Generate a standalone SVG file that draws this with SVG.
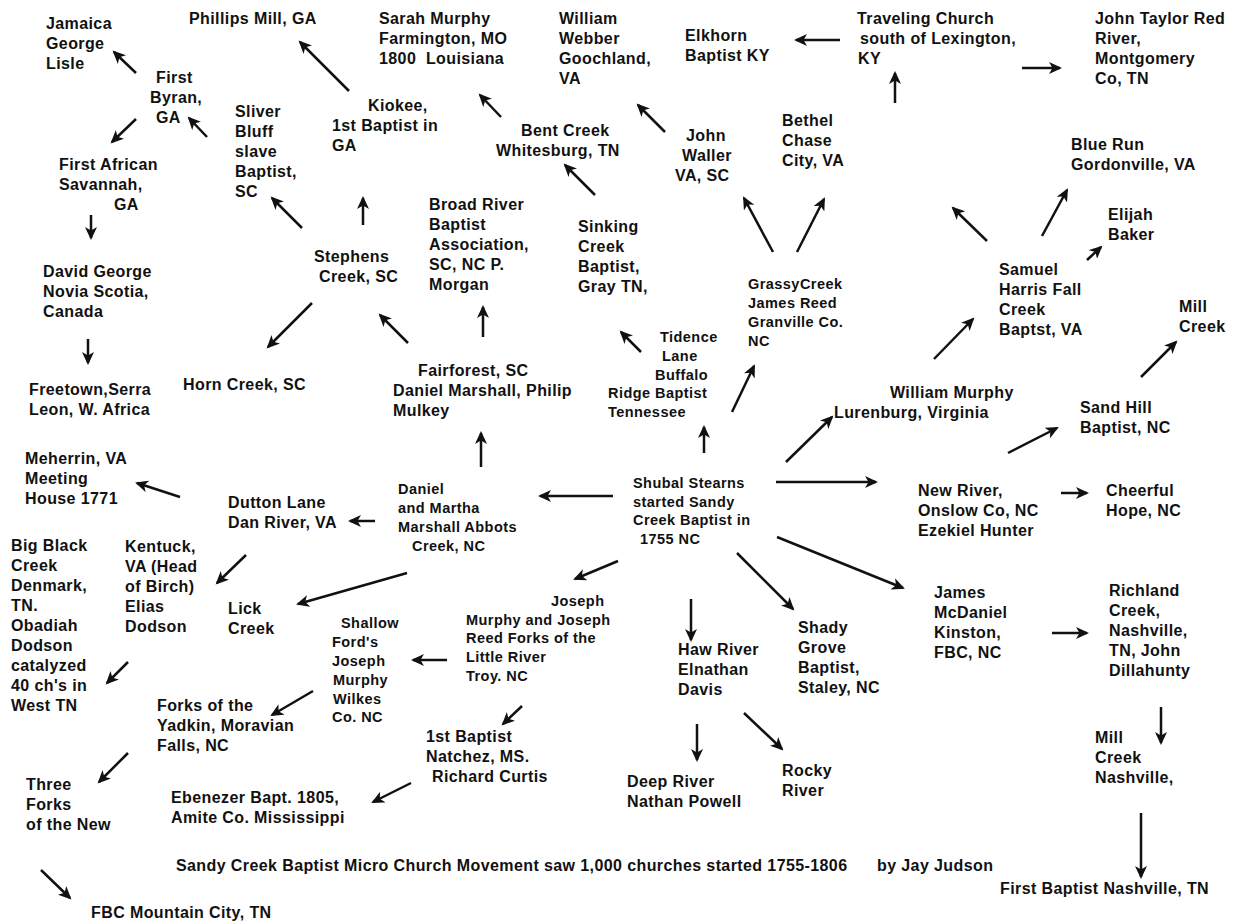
<svg xmlns="http://www.w3.org/2000/svg" width="1234" height="924" viewBox="0 0 1234 924">
<style>
.t{font-family:"Liberation Sans",Arial,sans-serif;font-weight:bold;font-size:16px;letter-spacing:0.4px;fill:#111}
.s{font-size:14.5px;letter-spacing:0.45px}
.c line{stroke:#111;stroke-width:2.5;marker-end:url(#ah)}
</style>
<defs>
<marker id="ah" markerUnits="userSpaceOnUse" markerWidth="14" markerHeight="12" refX="11" refY="6" orient="auto">
<path d="M0,0 L13,6 L0,12 L3.5,6 z" fill="#111"/>
</marker>
</defs>
<rect width="1234" height="924" fill="#fff"/>
<g id="connectors" class="c">
<line x1="136" y1="73" x2="114" y2="52"/>
<line x1="136" y1="119" x2="112" y2="142"/>
<line x1="207" y1="137" x2="189" y2="118"/>
<line x1="91" y1="215" x2="91" y2="238"/>
<line x1="302" y1="228" x2="272" y2="198"/>
<line x1="349" y1="91" x2="300" y2="42"/>
<line x1="501" y1="117" x2="480" y2="95"/>
<line x1="595" y1="195" x2="565" y2="165"/>
<line x1="363" y1="225" x2="363" y2="198"/>
<line x1="840" y1="40" x2="796" y2="40"/>
<line x1="895" y1="103" x2="895" y2="73"/>
<line x1="665" y1="132" x2="638" y2="105"/>
<line x1="773" y1="252" x2="744" y2="198"/>
<line x1="797" y1="252" x2="824" y2="199"/>
<line x1="1022" y1="68" x2="1060" y2="68"/>
<line x1="987" y1="241" x2="953" y2="208"/>
<line x1="1042" y1="236" x2="1067" y2="190"/>
<line x1="1087" y1="260" x2="1101" y2="247"/>
<line x1="934" y1="359" x2="973" y2="319"/>
<line x1="1141" y1="377" x2="1176" y2="342"/>
<line x1="786" y1="462" x2="832" y2="417"/>
<line x1="1008" y1="453" x2="1057" y2="428"/>
<line x1="1061" y1="493" x2="1087" y2="493"/>
<line x1="776" y1="482" x2="876" y2="482"/>
<line x1="777" y1="537" x2="903" y2="588"/>
<line x1="737" y1="553" x2="793" y2="609"/>
<line x1="1052" y1="633" x2="1087" y2="633"/>
<line x1="1161" y1="707" x2="1161" y2="743"/>
<line x1="1141" y1="813" x2="1141" y2="877"/>
<line x1="246" y1="555" x2="217" y2="583"/>
<line x1="407" y1="573" x2="298" y2="604"/>
<line x1="128" y1="662" x2="107" y2="683"/>
<line x1="313" y1="691" x2="272" y2="715"/>
<line x1="128" y1="753" x2="99" y2="782"/>
<line x1="41" y1="870" x2="70" y2="898"/>
<line x1="411" y1="783" x2="373" y2="802"/>
<line x1="447" y1="660" x2="413" y2="660"/>
<line x1="522" y1="706" x2="503" y2="724"/>
<line x1="618" y1="561" x2="575" y2="579"/>
<line x1="613" y1="496" x2="540" y2="496"/>
<line x1="375" y1="521" x2="350" y2="521"/>
<line x1="180" y1="497" x2="137" y2="483"/>
<line x1="88" y1="339" x2="88" y2="363"/>
<line x1="312" y1="303" x2="268" y2="347"/>
<line x1="408" y1="343" x2="380" y2="315"/>
<line x1="483" y1="337" x2="483" y2="307"/>
<line x1="481" y1="467" x2="481" y2="433"/>
<line x1="641" y1="352" x2="621" y2="332"/>
<line x1="732" y1="412" x2="754" y2="366"/>
<line x1="704" y1="453" x2="704" y2="427"/>
<line x1="691" y1="599" x2="691" y2="640"/>
<line x1="697" y1="724" x2="697" y2="760"/>
<line x1="744" y1="713" x2="782" y2="749"/>
</g>
<g id="jamaica"><text class="t"><tspan x="46" y="29">Jamaica</tspan><tspan x="46" y="49">George</tspan><tspan x="46" y="69">Lisle</tspan></text></g>
<g id="phillips"><text class="t" x="189" y="24">Phillips Mill, GA</text></g>
<g id="first-byran"><text class="t"><tspan x="156" y="83">First</tspan><tspan x="150" y="103">Byran,</tspan><tspan x="156" y="123">GA</tspan></text></g>
<g id="sliver"><text class="t"><tspan x="235" y="117">Sliver</tspan><tspan x="235" y="137">Bluff</tspan><tspan x="235" y="157">slave</tspan><tspan x="235" y="177">Baptist,</tspan><tspan x="235" y="197">SC</tspan></text></g>
<g id="first-african"><text class="t"><tspan x="59" y="170">First African</tspan><tspan x="59" y="190">Savannah,</tspan><tspan x="114" y="210">GA</tspan></text></g>
<g id="david-george"><text class="t"><tspan x="43" y="277">David George</tspan><tspan x="43" y="297">Novia Scotia,</tspan><tspan x="43" y="317">Canada</tspan></text></g>
<g id="freetown"><text class="t"><tspan x="29" y="395">Freetown,Serra</tspan><tspan x="29" y="415">Leon, W. Africa</tspan></text></g>
<g id="sarah"><text class="t" xml:space="preserve"><tspan x="379" y="24">Sarah Murphy</tspan><tspan x="379" y="44">Farmington, MO</tspan><tspan x="379" y="64">1800  Louisiana</tspan></text></g>
<g id="kiokee"><text class="t"><tspan x="368" y="111">Kiokee,</tspan><tspan x="332" y="131">1st Baptist in</tspan><tspan x="332" y="151">GA</tspan></text></g>
<g id="william-webber"><text class="t"><tspan x="559" y="24">William</tspan><tspan x="559" y="44">Webber</tspan><tspan x="559" y="64">Goochland,</tspan><tspan x="559" y="84">VA</tspan></text></g>
<g id="elkhorn"><text class="t"><tspan x="685" y="41">Elkhorn</tspan><tspan x="685" y="61">Baptist KY</tspan></text></g>
<g id="traveling"><text class="t"><tspan x="857" y="24">Traveling Church</tspan><tspan x="860" y="44">south of Lexington,</tspan><tspan x="858" y="64">KY</tspan></text></g>
<g id="john-taylor"><text class="t"><tspan x="1095" y="24">John Taylor Red</tspan><tspan x="1095" y="44">River,</tspan><tspan x="1095" y="64">Montgomery</tspan><tspan x="1095" y="84">Co, TN</tspan></text></g>
<g id="bent-creek"><text class="t"><tspan x="521" y="136">Bent Creek</tspan><tspan x="496" y="156">Whitesburg, TN</tspan></text></g>
<g id="john-waller"><text class="t"><tspan x="686" y="141">John</tspan><tspan x="682" y="161">Waller</tspan><tspan x="675" y="181">VA, SC</tspan></text></g>
<g id="bethel"><text class="t"><tspan x="782" y="126">Bethel</tspan><tspan x="782" y="146">Chase</tspan><tspan x="782" y="166">City, VA</tspan></text></g>
<g id="blue-run"><text class="t"><tspan x="1071" y="150">Blue Run</tspan><tspan x="1071" y="170">Gordonville, VA</tspan></text></g>
<g id="elijah"><text class="t"><tspan x="1108" y="220">Elijah</tspan><tspan x="1108" y="240">Baker</tspan></text></g>
<g id="stephens"><text class="t"><tspan x="314" y="262">Stephens</tspan><tspan x="319" y="282">Creek, SC</tspan></text></g>
<g id="broad-river"><text class="t"><tspan x="429" y="210">Broad River</tspan><tspan x="429" y="230">Baptist</tspan><tspan x="429" y="250">Association,</tspan><tspan x="429" y="270">SC, NC P.</tspan><tspan x="429" y="290">Morgan</tspan></text></g>
<g id="sinking"><text class="t"><tspan x="578" y="232">Sinking</tspan><tspan x="578" y="252">Creek</tspan><tspan x="578" y="272">Baptist,</tspan><tspan x="578" y="292">Gray TN,</tspan></text></g>
<g id="grassy-creek"><text class="t s"><tspan x="748" y="289">GrassyCreek</tspan><tspan x="748" y="308">James Reed</tspan><tspan x="748" y="327">Granville Co.</tspan><tspan x="748" y="346">NC</tspan></text></g>
<g id="samuel"><text class="t"><tspan x="999" y="275">Samuel</tspan><tspan x="999" y="295">Harris Fall</tspan><tspan x="999" y="315">Creek</tspan><tspan x="999" y="335">Baptst, VA</tspan></text></g>
<g id="mill-creek"><text class="t"><tspan x="1179" y="312">Mill</tspan><tspan x="1179" y="332">Creek</tspan></text></g>
<g id="horn-creek"><text class="t" x="183" y="390">Horn Creek, SC</text></g>
<g id="fairforest"><text class="t"><tspan x="418" y="376">Fairforest, SC</tspan><tspan x="393" y="396">Daniel Marshall, Philip</tspan><tspan x="393" y="416">Mulkey</tspan></text></g>
<g id="tidence"><text class="t s"><tspan x="660" y="342">Tidence</tspan><tspan x="662" y="361">Lane</tspan><tspan x="655" y="380">Buffalo</tspan><tspan x="608" y="398">Ridge Baptist</tspan><tspan x="608" y="417">Tennessee</tspan></text></g>
<g id="william-murphy"><text class="t"><tspan x="890" y="398">William Murphy</tspan><tspan x="834" y="418">Lurenburg, Virginia</tspan></text></g>
<g id="sand-hill"><text class="t"><tspan x="1080" y="413">Sand Hill</tspan><tspan x="1080" y="433">Baptist, NC</tspan></text></g>
<g id="meherrin"><text class="t"><tspan x="25" y="464">Meherrin, VA</tspan><tspan x="25" y="484">Meeting</tspan><tspan x="25" y="504">House 1771</tspan></text></g>
<g id="dutton"><text class="t"><tspan x="228" y="508">Dutton Lane</tspan><tspan x="228" y="528">Dan River, VA</tspan></text></g>
<g id="daniel-martha"><text class="t s"><tspan x="398" y="494">Daniel</tspan><tspan x="398" y="513">and Martha</tspan><tspan x="398" y="532">Marshall Abbots</tspan><tspan x="412" y="551">Creek, NC</tspan></text></g>
<g id="shubal"><text class="t s"><tspan x="633" y="488">Shubal Stearns</tspan><tspan x="633" y="507">started Sandy</tspan><tspan x="633" y="525">Creek Baptist in</tspan><tspan x="640" y="544">1755 NC</tspan></text></g>
<g id="new-river"><text class="t"><tspan x="918" y="496">New River,</tspan><tspan x="918" y="516">Onslow Co, NC</tspan><tspan x="918" y="536">Ezekiel Hunter</tspan></text></g>
<g id="cheerful"><text class="t"><tspan x="1106" y="496">Cheerful</tspan><tspan x="1106" y="516">Hope, NC</tspan></text></g>
<g id="big-black"><text class="t"><tspan x="11" y="551">Big Black</tspan><tspan x="11" y="571">Creek</tspan><tspan x="11" y="591">Denmark,</tspan><tspan x="11" y="611">TN.</tspan><tspan x="11" y="631">Obadiah</tspan><tspan x="11" y="651">Dodson</tspan><tspan x="11" y="671">catalyzed</tspan><tspan x="11" y="691">40 ch's in</tspan><tspan x="11" y="711">West TN</tspan></text></g>
<g id="kentuck"><text class="t"><tspan x="125" y="552">Kentuck,</tspan><tspan x="125" y="572">VA (Head</tspan><tspan x="125" y="592">of Birch)</tspan><tspan x="125" y="612">Elias</tspan><tspan x="125" y="632">Dodson</tspan></text></g>
<g id="lick-creek"><text class="t"><tspan x="228" y="614">Lick</tspan><tspan x="228" y="634">Creek</tspan></text></g>
<g id="shallow-ford"><text class="t s"><tspan x="341" y="628">Shallow</tspan><tspan x="332" y="647">Ford's</tspan><tspan x="332" y="666">Joseph</tspan><tspan x="333" y="685">Murphy</tspan><tspan x="333" y="704">Wilkes</tspan><tspan x="332" y="722">Co. NC</tspan></text></g>
<g id="joseph-murphy"><text class="t s"><tspan x="551" y="606">Joseph</tspan><tspan x="466" y="625">Murphy and Joseph</tspan><tspan x="466" y="643">Reed Forks of the</tspan><tspan x="466" y="662">Little River</tspan><tspan x="466" y="681">Troy. NC</tspan></text></g>
<g id="haw-river"><text class="t"><tspan x="678" y="655">Haw River</tspan><tspan x="678" y="675">Elnathan</tspan><tspan x="678" y="695">Davis</tspan></text></g>
<g id="shady-grove"><text class="t"><tspan x="798" y="633">Shady</tspan><tspan x="798" y="653">Grove</tspan><tspan x="798" y="673">Baptist,</tspan><tspan x="798" y="693">Staley, NC</tspan></text></g>
<g id="james-mcdaniel"><text class="t"><tspan x="934" y="598">James</tspan><tspan x="934" y="618">McDaniel</tspan><tspan x="934" y="638">Kinston,</tspan><tspan x="934" y="658">FBC, NC</tspan></text></g>
<g id="richland"><text class="t"><tspan x="1109" y="596">Richland</tspan><tspan x="1109" y="616">Creek,</tspan><tspan x="1109" y="636">Nashville,</tspan><tspan x="1109" y="656">TN, John</tspan><tspan x="1109" y="676">Dillahunty</tspan></text></g>
<g id="forks-yadkin"><text class="t"><tspan x="157" y="711">Forks of the</tspan><tspan x="157" y="731">Yadkin, Moravian</tspan><tspan x="157" y="751">Falls, NC</tspan></text></g>
<g id="natchez"><text class="t"><tspan x="426" y="742">1st Baptist</tspan><tspan x="426" y="762">Natchez, MS.</tspan><tspan x="432" y="782">Richard Curtis</tspan></text></g>
<g id="mill-creek-nashville"><text class="t"><tspan x="1095" y="743">Mill</tspan><tspan x="1095" y="763">Creek</tspan><tspan x="1095" y="783">Nashville,</tspan></text></g>
<g id="deep-river"><text class="t"><tspan x="627" y="787">Deep River</tspan><tspan x="627" y="807">Nathan Powell</tspan></text></g>
<g id="rocky-river"><text class="t"><tspan x="782" y="776">Rocky</tspan><tspan x="782" y="796">River</tspan></text></g>
<g id="three-forks"><text class="t"><tspan x="26" y="790">Three</tspan><tspan x="26" y="810">Forks</tspan><tspan x="26" y="830">of the New</tspan></text></g>
<g id="ebenezer"><text class="t"><tspan x="171" y="803">Ebenezer Bapt. 1805,</tspan><tspan x="171" y="823">Amite Co. Mississippi</tspan></text></g>
<g id="title"><text class="t" x="176" y="871">Sandy Creek Baptist Micro Church Movement saw 1,000 churches started 1755-1806</text><text class="t" x="877" y="871">by Jay Judson</text></g>
<g id="fbc-nashville"><text class="t" x="1000" y="894">First Baptist Nashville, TN</text></g>
<g id="fbc-mountain-city"><text class="t" x="91" y="918">FBC Mountain City, TN</text></g>
</svg>
